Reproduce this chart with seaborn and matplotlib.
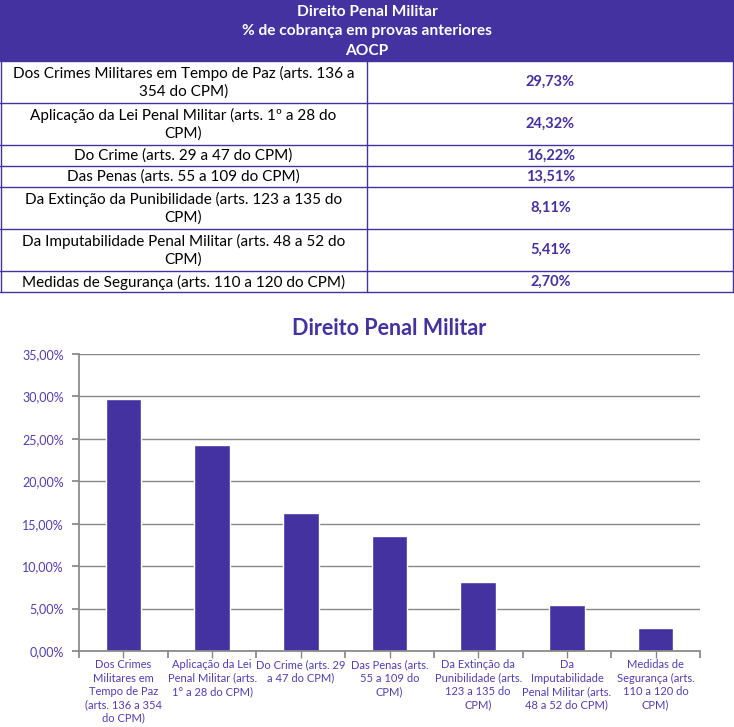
import textwrap

import matplotlib.pyplot as plt
import seaborn as sns
import pandas as pd
from matplotlib.patches import Rectangle

# data
categories = [
    "Dos Crimes Militares em Tempo de Paz (arts. 136 a 354 do CPM)",
    "Aplicação da Lei Penal Militar (arts. 1º a 28 do CPM)",
    "Do Crime (arts. 29 a 47 do CPM)",
    "Das Penas (arts. 55 a 109 do CPM)",
    "Da Extinção da Punibilidade (arts. 123 a 135 do CPM)",
    "Da Imputabilidade Penal Militar (arts. 48 a 52 do CPM)",
    "Medidas de Segurança (arts. 110 a 120 do CPM)",
]
chart_labels = [
    "Dos Crimes\nMilitares em\nTempo de Paz\n(arts. 136 a 354\ndo CPM)",
    "Aplicação da Lei\nPenal Militar (arts.\n1° a 28 do CPM)",
    "Do Crime (arts. 29\na 47 do CPM)",
    "Das Penas (arts.\n55 a 109 do\nCPM)",
    "Da Extinção da\nPunibilidade (arts.\n123 a 135 do\nCPM)",
    "Da\nImputabilidade\nPenal Militar (arts.\n48 a 52 do CPM)",
    "Medidas de\nSegurança (arts.\n110 a 120 do\nCPM)",
]
values = [29.73, 24.32, 16.22, 13.51, 8.11, 5.41, 2.70]
header_lines = ["Direito Penal Militar", "% de cobrança em provas anteriores", "AOCP"]
chart_title = "Direito Penal Militar"

PURPLE = "#4332a0"
W, H = 734, 727

sns.set_theme(style="white")
plt.rcParams["font.family"] = ["Lato", "DejaVu Sans"]


def pct(v):
    return f"{v:.2f}%".replace(".", ",")


fig = plt.figure(figsize=(W / 100, H / 100), dpi=100)

# ---- table at the top
tab_h = 297
tax = fig.add_axes([0, 1 - tab_h / H, 1, tab_h / H])
tax.set_xlim(0, W)
tax.set_ylim(tab_h, 0)
tax.axis("off")

tax.add_patch(Rectangle((0, 0), W, 61, color=PURPLE, lw=0))
for i, line in enumerate(header_lines):
    tax.text(W / 2, 12 + i * 19.5, line, ha="center", va="center",
             color="white", fontsize=11.2, fontweight="bold")

split = 367
y = 61
tax.plot([0, W - 1], [y, y], color=PURPLE, lw=1)
for cat, v in zip(categories, values):
    lines = textwrap.wrap(cat, 49)
    h = 21 * len(lines)
    tax.text(split / 2, y + h / 2 + 0.5, "\n".join(lines), ha="center", va="center",
             fontsize=11, color="black", linespacing=1.3)
    tax.text((split + W) / 2, y + h / 2, pct(v), ha="center", va="center",
             fontsize=10.5, color=PURPLE, fontweight="bold")
    tax.plot([0, W - 1], [y + h, y + h], color=PURPLE, lw=1)
    tax.plot([split, split], [y, y + h], color=PURPLE, lw=1)
    tax.plot([0.5, 0.5], [y, y + h], color=PURPLE, lw=1)
    tax.plot([W - 1, W - 1], [y, y + h], color=PURPLE, lw=1)
    y += h

# ---- bar chart
left, right, top, bottom = 79, 700, 354, 651
ax = fig.add_axes([left / W, 1 - bottom / H, (right - left) / W, (bottom - top) / H])
df = pd.DataFrame({"label": chart_labels, "value": values})
sns.barplot(data=df, x="label", y="value", color=PURPLE, saturation=1,
            width=0.4, ax=ax)
ax.set_ylim(0, 35)
ax.set_xlim(-0.5, len(values) - 0.5)
ax.set_yticks(range(0, 36, 5))
ax.set_yticklabels([pct(t) for t in range(0, 36, 5)], color="#4f3fb0", fontsize=9)
ax.yaxis.grid(True, color="#888888", lw=1)
ax.set_axisbelow(True)
ax.set_xlabel("")
ax.set_ylabel("")
ax.set_xticks([i - 0.5 for i in range(len(values) + 1)], minor=False)
ax.set_xticks(range(len(values)), minor=True)
ax.set_xticklabels([""] * (len(values) + 1))
ax.tick_params(axis="x", which="both", bottom=True, length=5, color="#888888")
ax.tick_params(axis="y", left=True, length=5, color="#888888", pad=6)
for i, lab in enumerate(chart_labels):
    ax.text(i, -1.0, lab, ha="center", va="top", color="#4f3fb0", fontsize=8,
            linespacing=1.25)
for s in ["top", "right"]:
    ax.spines[s].set_visible(False)
for s in ["left", "bottom"]:
    ax.spines[s].set_color("#888888")
ax.set_title(chart_title, color=PURPLE, fontsize=15.5, fontweight="bold", pad=14)

fig.savefig("out.png", dpi=100)
